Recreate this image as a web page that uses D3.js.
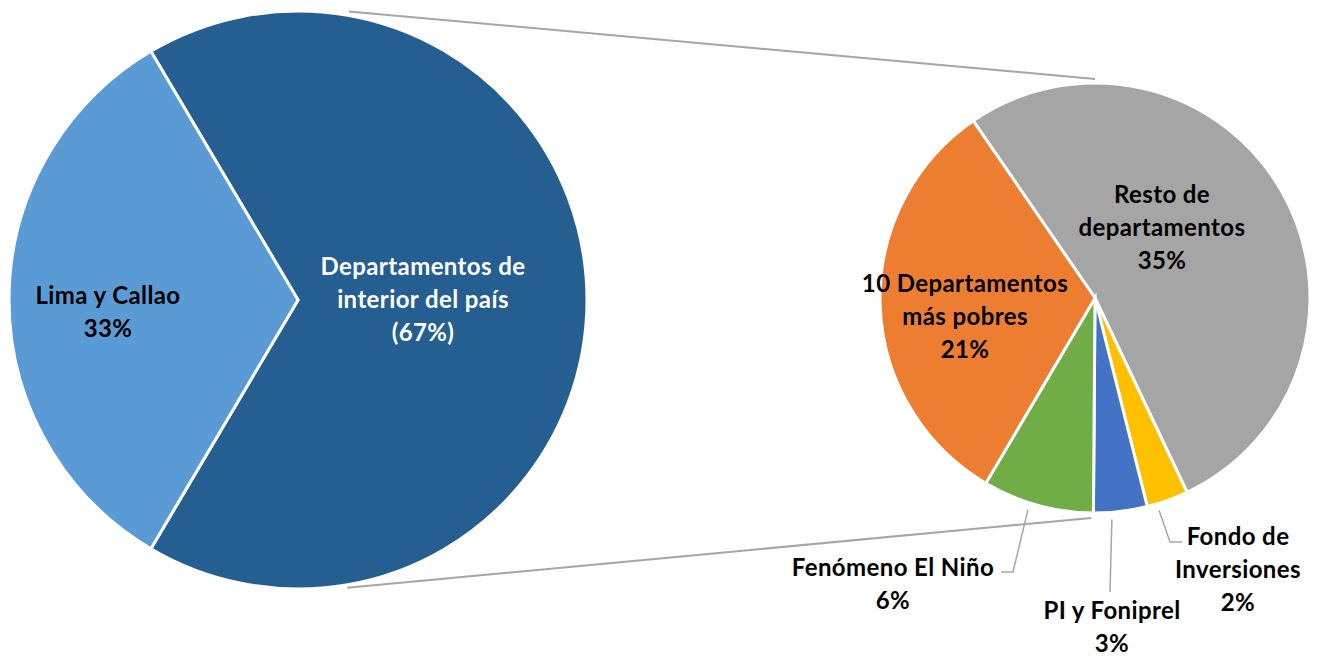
<!DOCTYPE html>
<html>
<head>
<meta charset="utf-8">
<script src="https://cdn.jsdelivr.net/npm/d3@7"></script>
<style>
  html, body { margin: 0; padding: 0; background: #fff; }
  text { font-family: Lato, "Open Sans", sans-serif; font-weight: bold; letter-spacing: 0.4px; }
</style>
</head>
<body>
<svg width="1320" height="656"></svg>
<script>
// primer nivel: Lima vs interior
const MAIN_LABELS = [["Departamentos de", "interior del país"], ["Lima y Callao"]];
const MAIN_VALUES = [67, 33];
const MAIN_PCT = ["(67%)", "33%"];
const MAIN_COLORS = ["#255E91", "#5B9BD5"];

// desglose del interior (porcentaje del total)
const SUB_LABELS = [["Resto de", "departamentos"], ["Fondo de", "Inversiones"], ["PI y Foniprel"], ["Fenómeno El Niño"], ["10 Departamentos", "más pobres"]];
const SUB_VALUES = [35.2, 2.1, 2.7, 5.6, 21.4];
const SUB_COLORS = ["#A5A5A5", "#FFC000", "#4472C4", "#70AD47", "#ED7D31"];

var svg = d3.select("svg"),
    lineH = 33,
    fontSize = 24;

var deg = Math.PI / 180;

// ---- pie izquierdo
var cx1 = 298, cy1 = 300, r1 = 289;
var limaShare = MAIN_VALUES[1] / d3.sum(MAIN_VALUES);
var pie1 = d3.pie().sort(null)
    .startAngle(-Math.PI / 2 + limaShare * Math.PI)
    .endAngle(-Math.PI / 2 + limaShare * Math.PI + 2 * Math.PI);
var arc1 = d3.arc().innerRadius(0).outerRadius(r1);

var g1 = svg.append("g").attr("transform", "translate(" + cx1 + "," + cy1 + ")");
g1.selectAll("path")
  .data(pie1(MAIN_VALUES))
  .enter().append("path")
  .attr("d", arc1)
  .attr("fill", function(d, i) { return MAIN_COLORS[i]; })
  .attr("stroke", "#fff")
  .attr("stroke-width", 3)
  .attr("stroke-linejoin", "miter");

var mainLabelPos = [{ x: 423, y: 267 }, { x: 108, y: 296 }];
var mainTextColor = ["#fff", "#000"];
MAIN_LABELS.forEach(function(lines, i) {
    var t = svg.append("text")
        .attr("text-anchor", "middle")
        .attr("font-size", fontSize)
        .attr("fill", mainTextColor[i]);
    lines.concat([MAIN_PCT[i]]).forEach(function(s, k) {
        t.append("tspan")
         .attr("x", mainLabelPos[i].x)
         .attr("y", mainLabelPos[i].y + k * lineH)
         .attr("dy", "0.35em")
         .text(s);
    });
});

// ---- pie derecho
var cx2 = 1095, cy2 = 298, r2 = 215;
var start2 = -34.5 * deg;
var pie2 = d3.pie().sort(null).startAngle(start2).endAngle(start2 + 2 * Math.PI);
var arc2 = d3.arc().innerRadius(0).outerRadius(r2);
var subArcs = pie2(SUB_VALUES);

// conectores entre pies
function polar(cx, cy, r, a) { return [cx + r * Math.sin(a), cy - r * Math.cos(a)]; }
var connectors = [
    [polar(cx1, cy1, r1 + 4, 10 * deg), polar(cx2, cy2, r2 + 4, 0)],
    [polar(cx1, cy1, r1 + 3, 170.3 * deg), polar(cx2, cy2, r2 + 5, 181 * deg)]
];
svg.selectAll(".conn")
   .data(connectors)
   .enter().append("path")
   .attr("class", "conn")
   .attr("d", d3.line())
   .attr("fill", "none")
   .attr("stroke", "#A6A6A6")
   .attr("stroke-width", 2);

var g2 = svg.append("g").attr("transform", "translate(" + cx2 + "," + cy2 + ")");
g2.selectAll("path")
  .data(subArcs)
  .enter().append("path")
  .attr("d", arc2)
  .attr("fill", function(d, i) { return SUB_COLORS[i]; })
  .attr("stroke", "#fff")
  .attr("stroke-width", 3)
  .attr("stroke-linejoin", "miter");

// posiciones de etiquetas y lineas guia
var subLayout = [
    { x: 1162, y: 195 },
    { x: 1238, y: 537, t: 0.76, elbow: [1170, 542], end: [1182, 542] },
    { x: 1112, y: 611, t: 0.67, elbow: [1110, 592], end: null },
    { x: 893, y: 568, t: 0.57, elbow: [1013, 572], end: [1001, 572] },
    { x: 965, y: 284 }
];

subArcs.forEach(function(d, i) {
    var L = subLayout[i];
    if (L.elbow) {
        var a = d.startAngle + L.t * (d.endAngle - d.startAngle);
        var pts = [polar(cx2, cy2, r2 + 7, a), L.elbow];
        if (L.end) pts.push(L.end);
        svg.append("path")
           .attr("d", d3.line()(pts))
           .attr("fill", "none")
           .attr("stroke", "#A6A6A6")
           .attr("stroke-width", 1.5);
    }
    var t = svg.append("text")
        .attr("text-anchor", "middle")
        .attr("font-size", fontSize)
        .attr("fill", "#000");
    SUB_LABELS[i].concat([Math.round(d.data) + "%"]).forEach(function(s, k) {
        t.append("tspan")
         .attr("x", L.x)
         .attr("y", L.y + k * lineH)
         .attr("dy", "0.35em")
         .text(s);
    });
});
</script>
</body>
</html>
